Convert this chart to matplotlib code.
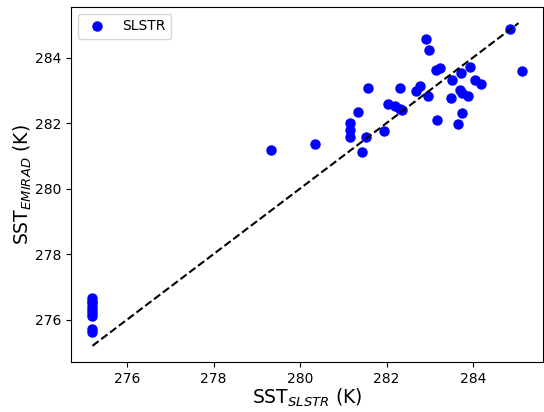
import numpy as np
import matplotlib
matplotlib.use("Agg")
import matplotlib.pyplot as plt

# SST SLSTR (x) vs SST EMIRAD (y), en K
sst_slstr = [275.2, 275.2, 275.2, 275.2, 275.2, 275.2, 275.2, 275.2, 275.2,
             279.32, 280.35,
             281.16, 281.16, 281.16, 281.33, 281.58, 281.52, 281.43, 281.95,
             282.03, 282.2, 282.3, 282.36, 282.32, 282.67, 282.78, 282.95, 283.16,
             284.85, 285.12, 282.91, 282.97, 283.14, 283.24, 283.94, 283.73,
             283.52, 284.04, 284.19, 283.49, 283.69, 283.75, 283.88, 283.74, 283.65]
sst_emirad = [276.67, 276.58, 276.5, 276.4, 276.3, 276.2, 276.12, 275.7, 275.62,
              281.19, 281.37,
              282.01, 281.79, 281.58, 282.35, 283.06, 281.58, 281.11, 281.75,
              282.57, 282.52, 282.42, 282.40, 283.06, 282.98, 283.12, 282.81, 282.10,
              284.87, 283.60, 284.55, 284.23, 283.63, 283.67, 283.70, 283.52,
              283.32, 283.32, 283.19, 282.75, 283.0, 282.91, 282.81, 282.30, 281.96]

fig = plt.figure(figsize=(5.44, 4.12), dpi=100)
ax = fig.add_axes([0.1305, 0.1214, 0.8676, 0.8617])

ax.plot(sst_slstr, sst_emirad, 'o', color='blue', markersize=6.5, label='SLSTR')

# droite 1:1
ligne = np.array([min(sst_slstr), 285.05])
ax.plot(ligne, ligne, '--', color='black', linewidth=1.5)

ax.set_xlabel(r'SST$_{SLSTR}$ (K)', fontsize=13.5, labelpad=1)
ax.set_ylabel(r'SST$_{EMIRAD}$ (K)', fontsize=13.5, labelpad=1)
ax.set_xticks([276, 278, 280, 282, 284])
ax.set_yticks([276, 278, 280, 282, 284])
ax.tick_params(labelsize=10)
ax.legend(loc='upper left', fontsize=10)

fig.savefig('out.png', dpi=100)
